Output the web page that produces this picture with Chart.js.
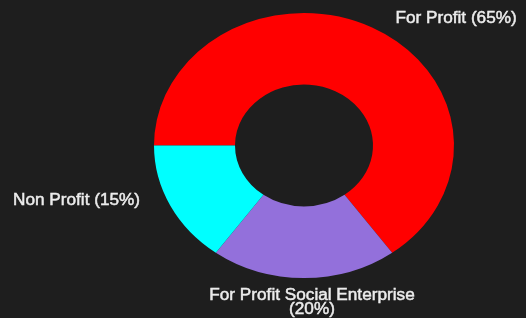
<!DOCTYPE html>
<html><head><meta charset="utf-8">
<script src="https://cdn.jsdelivr.net/npm/chart.js@4/dist/chart.umd.min.js"></script>
<style>html,body{margin:0;padding:0;background:#1e1e1e;overflow:hidden}canvas{display:block}</style>
</head><body>
<canvas id="c" width="526" height="318"></canvas>
<script>
// ---- data ----
const categories = ["For Profit", "For Profit Social Enterprise", "Non Profit"];
const shares = [65, 20, 15];
const wrapLabel = [false, true, false];
const colors = ["#ff0000", "#9370db", "#00ffff"];

// ---- layout / style (not data) ----
const SX = 150 / 132.5;              // horizontal stretch of the doughnut (ellipse)
const labelOffsets = [[84, -4.1], [8, 21.5], [-93.8, -0.7]];
const lineGap = 14.5;

const labelLines = categories.map((c, i) =>
  wrapLabel[i] ? [c, "(" + shares[i] + "%)"] : [c + " (" + shares[i] + "%)"]);

const ellipsePlugin = {
  id: 'ellipse',
  beforeDatasetsDraw(chart) {
    const a = chart.getDatasetMeta(0).data[0];
    const ctx = chart.ctx;
    ctx.save();
    ctx.translate(a.x, 0);
    ctx.scale(SX, 1);
    ctx.translate(-a.x, 0);
  },
  afterDatasetsDraw(chart) { chart.ctx.restore(); }
};

const labelPlugin = {
  id: 'outLabels',
  afterDraw(chart) {
    const ctx = chart.ctx;
    ctx.save();
    ctx.font = '17.2px "Liberation Sans", Arial, sans-serif';
    ctx.fillStyle = '#ececec';
    ctx.strokeStyle = '#ececec';
    ctx.lineWidth = 0.5;
    ctx.textAlign = 'center';
    ctx.textBaseline = 'alphabetic';
    chart.getDatasetMeta(0).data.forEach((arc, i) => {
      const m = (arc.startAngle + arc.endAngle) / 2;
      const R = arc.outerRadius;
      const px = arc.x + R * SX * Math.cos(m);
      const py = arc.y + R * Math.sin(m);
      const [dx, dy] = labelOffsets[i];
      labelLines[i].forEach((ln, k) => {
        ctx.fillText(ln, px + dx, py + dy + k * lineGap);
        ctx.strokeText(ln, px + dx, py + dy + k * lineGap);
      });
    });
    ctx.restore();
  }
};

new Chart(document.getElementById('c'), {
  type: 'doughnut',
  data: {
    labels: categories,
    datasets: [{
      data: shares,
      backgroundColor: colors,
      borderWidth: 0,
      hoverOffset: 0
    }]
  },
  options: {
    responsive: false,
    devicePixelRatio: 1,
    animation: false,
    rotation: -90,
    cutout: '46%',
    layout: { padding: { top: 13, bottom: 40, left: 171.5, right: 89.5 } },
    plugins: { legend: { display: false }, tooltip: { enabled: false } }
  },
  plugins: [ellipsePlugin, labelPlugin]
});
</script>
</body></html>
